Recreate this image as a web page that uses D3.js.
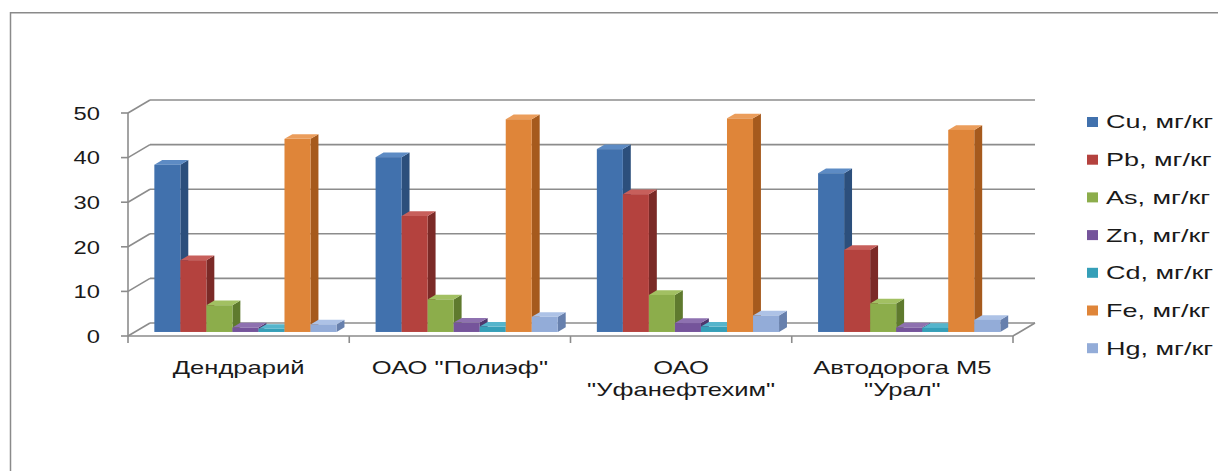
<!DOCTYPE html>
<html>
<head>
<meta charset="utf-8">
<script src="https://cdn.jsdelivr.net/npm/d3@7"></script>
<style>
  html, body { margin: 0; padding: 0; background: #fff; }
  svg { display: block; }
  text { font-family: "Liberation Sans", Arial, sans-serif; fill: #1a1a1a; }
</style>
</head>
<body>
<svg id="chart" width="1218" height="471"></svg>
<script>
// Sampling sites (two-line labels split with "\n")
const categories = ["Дендрарий", "ОАО \"Полиэф\"", "ОАО\n\"Уфанефтехим\"", "Автодорога М5\n\"Урал\""];
const seriesNames = ["Cu, мг/кг", "Pb, мг/кг", "As, мг/кг", "Zn, мг/кг", "Cd, мг/кг", "Fe, мг/кг", "Hg, мг/кг"];
// Concentrations per site, one array per element
const cu = [37.5, 39.2, 41.0, 35.6];
const pb = [16.1, 26.0, 30.9, 18.4];
const as = [6.0, 7.3, 8.3, 6.4];
const zn = [1.0, 2.1, 2.0, 1.0];
const cd = [0.7, 1.2, 1.2, 0.9];
const fe = [43.3, 47.7, 47.9, 45.3];
const hg = [1.7, 3.4, 3.7, 2.7];
const yTicks = [0, 10, 20, 30, 40, 50];

const seriesValues = [cu, pb, as, zn, cd, fe, hg];
// front / side / top shades for each series
const palette = [
  { front: "#4171ad", side: "#2c4f7c", top: "#5d8bc4" },
  { front: "#b4423e", side: "#7b2a27", top: "#c75f5b" },
  { front: "#8cad4b", side: "#5f7a2e", top: "#a2c062" },
  { front: "#75549b", side: "#4f376d", top: "#8e71b0" },
  { front: "#359fb8", side: "#227286", top: "#55b5cc" },
  { front: "#df8539", side: "#a65a1d", top: "#eb9d5b" },
  { front: "#93acd8", side: "#6780ad", top: "#adc2e6" }
];

const svg = d3.select("#chart");
const W = 1218, H = 471;

// outer frame
svg.append("rect")
  .attr("x", 10.5).attr("y", 12.75)
  .attr("width", W + 10).attr("height", H + 10)
  .attr("fill", "none").attr("stroke", "#8a8a8a").attr("stroke-width", 1.5);

// 3D projection: depth z in [0,1] shifts right and up
const DX = 22, DY = -13;
const x = d3.scaleBand().domain(categories).range([128, 1013]).paddingInner(0).paddingOuter(0);
const y = d3.scaleLinear().domain([0, 50]).range([336, 113]);
const inner = d3.scaleBand().domain(seriesNames).range([0, x.bandwidth()]).paddingInner(0).paddingOuter(0.75);
const P = (px, v, z) => [px + DX * z, y(v) + DY * z];
const line = d3.line();

const grid = svg.append("g").attr("stroke", "#8c8c8c").attr("stroke-width", 1.6).attr("fill", "none");
const x0 = x.range()[0], x1 = x.range()[1];

// back wall gridlines and left side wall lines
yTicks.forEach(v => {
  grid.append("path").attr("d", line([P(x0, v, 1), P(x1, v, 1)]));
  grid.append("path").attr("d", line([P(x0, v, 0), P(x0, v, 1)]));
});
// floor front and right edges
grid.append("path").attr("d", line([P(x0, 0, 0), P(x1, 0, 0), P(x1, 0, 1)]));
// value axis
grid.append("path").attr("d", line([P(x0, 50, 0), P(x0, 0, 0)]));
yTicks.forEach(v => {
  grid.append("path").attr("d", line([[x0 - 7, y(v)], [x0, y(v)]]));
});
// category boundary ticks
const bounds = categories.map(c => x(c)).concat([x1]);
bounds.forEach(b => {
  grid.append("path").attr("d", line([[b, y(0)], [b, y(0) + 7]]));
});

// y tick labels
const yLab = svg.append("g");
yTicks.forEach(v => {
  yLab.append("text")
    .attr("transform", `translate(100,${y(v)}) scale(1.25,1)`)
    .attr("text-anchor", "end").attr("dy", "0.36em")
    .attr("font-size", 19)
    .text(v);
});

// bars
const Z0 = 0.31, Z1 = 0.67;
const bars = svg.append("g");
categories.forEach((c, ci) => {
  seriesNames.forEach((s, si) => {
    const v = seriesValues[si][ci];
    const bx = x(c) + inner(s), bw = inner.bandwidth();
    const col = palette[si];
    const g = bars.append("g");
    // right side face
    g.append("path").attr("fill", col.side)
      .attr("d", line([P(bx + bw, 0, Z0), P(bx + bw, 0, Z1), P(bx + bw, v, Z1), P(bx + bw, v, Z0)]) + "Z");
    // top face
    g.append("path").attr("fill", col.top)
      .attr("d", line([P(bx, v, Z0), P(bx + bw, v, Z0), P(bx + bw, v, Z1), P(bx, v, Z1)]) + "Z");
    // front face
    const f0 = P(bx, v, Z0), f1 = P(bx + bw, 0, Z0);
    g.append("rect").attr("fill", col.front)
      .attr("x", f0[0]).attr("y", f0[1])
      .attr("width", f1[0] - f0[0]).attr("height", f1[1] - f0[1]);
  });
});

// category labels
const cLab = svg.append("g");
categories.forEach(c => {
  const lines = c.split("\n");
  const cx = x(c) + x.bandwidth() / 2;
  lines.forEach((t, i) => {
    cLab.append("text")
      .attr("transform", `translate(${cx},${374 + i * 22}) scale(1.42,1)`)
      .attr("text-anchor", "middle")
      .attr("font-size", 18)
      .text(t);
  });
});

// legend
const leg = svg.append("g");
seriesNames.forEach((s, i) => {
  const cy = 122 + i * 37.7;
  leg.append("rect").attr("x", 1087).attr("y", cy - 5).attr("width", 11).attr("height", 10)
    .attr("fill", palette[i].front);
  leg.append("text")
    .attr("transform", `translate(1106,${cy}) scale(1.5,1)`)
    .attr("dy", "0.36em").attr("font-size", 18)
    .text(s);
});
</script>
</body>
</html>
